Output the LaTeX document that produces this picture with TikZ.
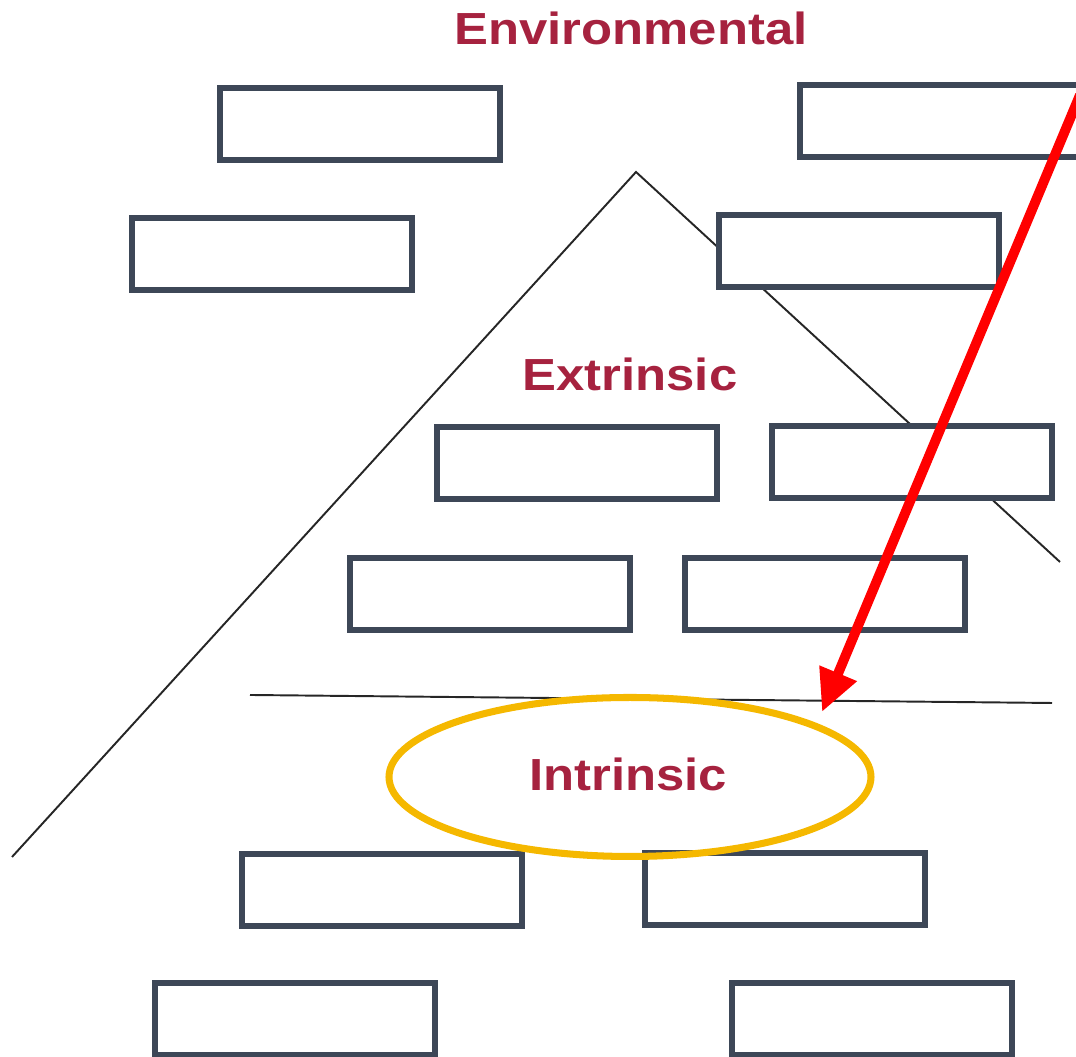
\documentclass[tikz,border=0pt]{standalone}
\usepackage{fontspec}
\usepackage{xcolor}
\usepackage{tikz}
\usetikzlibrary{shapes.geometric, arrows, arrows.meta}
\newfontfamily\levelfont[FakeStretch=1.13]{Liberation Sans}
\definecolor{levelred}{HTML}{A6223F}
\definecolor{boxgray}{HTML}{3D4757}
\definecolor{ringgold}{HTML}{F5B800}
\tikzstyle{blank} = [rectangle, draw=boxgray, line width=1.6pt, fill=white, minimum width=2.80cm, minimum height=0.72cm, inner sep=0pt]
\tikzstyle{level} = [anchor=base, text=levelred, font=\levelfont\fontsize{12.8}{15}\bfseries]
\tikzstyle{edge} = [line width=0.55pt, black!85]

\begin{document}
\begin{tikzpicture}
                \useasboundingbox (0,0) rectangle (10.76,10.57);
                % outline of the pyramid and the cut under the middle level
                \coordinate (apex) at (6.36,8.85);
                \coordinate (foot) at (0.12,2.00);
                \coordinate (flank) at (10.60,4.95);
                \coordinate (cutL) at (2.50,3.62);
                \coordinate (cutR) at (10.52,3.54);
                \draw[edge] (foot) -- (apex) -- (flank);
                \draw[edge] (cutL) -- (cutR);
                % level titles
                \node[level] (env) at (6.31,10.12) {Environmental};
                \node[level] (ext) at (6.30,6.66) {Extrinsic};
                \node[level] (int) at (6.28,2.66) {Intrinsic};
                % empty boxes, environmental
                \node[blank] (envA) at (3.60,9.33) {};
                \node[blank] (envB) at (9.40,9.36) {};
                \node[blank] (envC) at (2.72,8.03) {};
                \node[blank] (envD) at (8.59,8.06) {};
                % empty boxes, extrinsic
                \node[blank] (extA) at (5.77,5.94) {};
                \node[blank] (extB) at (9.12,5.95) {};
                \node[blank] (extC) at (4.90,4.63) {};
                \node[blank] (extD) at (8.25,4.63) {};
                % empty boxes, intrinsic
                \node[blank] (intA) at (3.82,1.67) {};
                \node[blank] (intB) at (7.85,1.68) {};
                \node[blank] (intC) at (2.95,0.38) {};
                \node[blank] (intD) at (8.72,0.38) {};
                % highlight
                \node[ellipse, draw=ringgold, line width=2pt, minimum width=4.82cm, minimum height=1.59cm, inner sep=0pt] (ring) at (6.30,2.80) {};
                \coordinate (from) at (10.80,9.62);
                \coordinate (tip) at (8.22,3.45);
                \draw[-{Triangle[length=0.42cm,width=0.38cm]}, red, line width=2.8pt] (from) -- (tip);
            \end{tikzpicture}
\end{document}
